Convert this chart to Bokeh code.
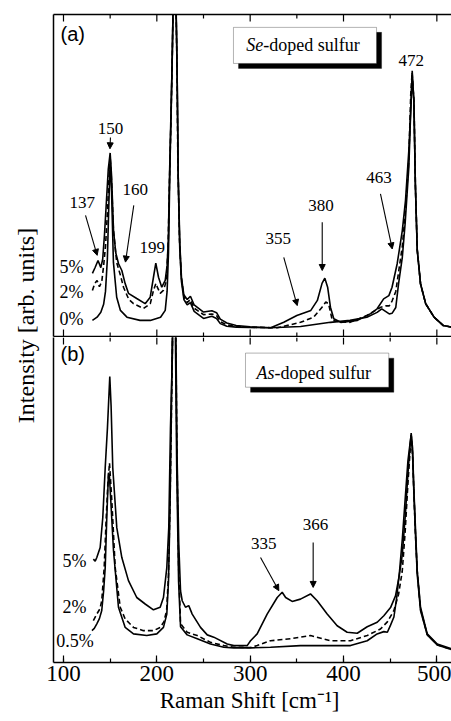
import math
from bokeh.plotting import figure
from bokeh.models import (Range1d, LinearAxis, SingleIntervalTicker, FixedTicker,
                          Label, Arrow, NormalHead, BoxAnnotation)
from bokeh.layouts import row, column
from bokeh.embed import file_html
from bokeh.resources import INLINE

# ---------------- data, x = Raman shift [cm-1], y = arb. units ----------------
# panel (a): Se-doped sulfur
se_0 = [(131,5.0),(136,6.0),(140,7.5),(143,10),(145,14),(147,24),(148.5,40),(150,55),(151.5,45),(153.5,23),
        (157,12.2),(161,8.1),(168,6.0),(182,5.0),(193,5.0),(204,6.0),(209,8.1),(211,14),(212.5,26),(214,52),
        (215.5,72),(216.8,92),(218,112),(220,112),(221.3,92),(222,75),(223,48),(224.6,27),(226.4,17),(229,11.5),
        (232.5,9.8),(236,10.5),(240,7.8),(250,5.6),(259,6.3),(264,5.6),(268,4.0),(275,3.2),(285,2.9),(300,2.8),
        (322,2.7),(354,3.1),(386,4.4),(407,5.0),(425,6.0),(436,7.5),(441,8.6),(445,7.8),(449,7.0),(452,7.2),
        (456,9.0),(459,16.4),(463,24.6),(466,35),(470,52.6),(472,70),(473.5,81),(475.5,73),(477,47),(479,27),
        (482.5,16.4),(488,10.2),(497,6.0),(507,3.4),(516,2.9)]
se_2 = [(131,14.3),(133.5,16.5),(136,17.4),(138.5,15.5),(141,17),(143,22),(145,28),(147,38),(148.5,48),(150,56),
        (151.5,48),(153.5,33),(157,23),(161,19),(164.3,15.3),(170,11.5),(175,10.2),(185.7,8.7),(193,10.2),(196.4,14.3),
        (199,16.5),(201,15),(203.6,13.4),(207,14.3),(210,17),(212,27),(213.6,49),(215.4,70),(216.5,86),(218,112),
        (220,112),(221.5,86),(222.5,55),(224.3,30),(226.2,18.5),(228.9,12.5),(232.5,10.5),(236,11.5),(240,8.8),(250,6.8),
        (259,7.0),(264,6.5),(268,4.6),(275,3.6),(285,3.1),(300,2.9),(329,2.7),(354,4.4),(368,6.0),(377,9.1),
        (381,10.7),(384,10.2),(388,5.0),(396,4.6),(407,4.4),(425,6.5),(440,9.1),(445,9.5),(449,9.5),(452,11),
        (456,14),(459,20),(463,28),(466,38),(470,55),(472,75),(473.5,82),(475.5,73),(477,47),(479,27),
        (482.5,16.4),(488,10.2),(497,6.0),(507,3.4),(516,2.9)]
se_5 = [(131,19.6),(134,21.5),(137,23.6),(140,21.4),(142,24),(144,32),(146,42),(148,52),(150,57),(151.5,50),
        (153.6,33),(156,26),(159,22.6),(162.5,20.5),(166,16.5),(169.6,13.4),(178.5,11.8),(187.5,10.2),(192.9,12.2),(196.4,18.4),
        (198.9,22.8),(201.8,18.4),(205.3,15.3),(209,17.4),(211,22),(212.3,30),(213.6,50),(215.2,70),(216.5,86),(218,112),
        (220,112),(221.8,81),(222.9,50),(224.6,29),(226.4,18.3),(228.9,13),(232.5,11.5),(236,12.5),(240,9.8),(250,7.6),
        (259,8.0),(264,7.4),(268,5.4),(275,4.2),(285,3.4),(300,3.0),(322,2.7),(336,4.4),(350,6.5),(365,8.1),
        (372,11.2),(377,16.5),(380,18.1),(383,15.3),(386,9.1),(389.6,5.5),(397,4.4),(415,5.0),(429,7.1),(436,8.6),
        (443,11.7),(448.6,12.7),(452,15.3),(457.5,22.6),(463,32.9),(466.4,42.2),(470,57.8),(472.5,73.3),(473.6,82.5),(475.3,73.3),
        (477,47.4),(479,26.7),(482.5,16.4),(488,10.2),(497,6.0),(507,3.4),(516,2.9)]

# panel (b): As-doped sulfur
as_05 = [(130.5,9.8),(133,10.5),(135.7,11.9),(138.5,13.5),(141,16.0),(143,22),(144.7,29.2),(146.4,44.6),(148.2,58.4),(149.3,57),
         (150.7,49.7),(153.6,34.4),(158.9,17.0),(166.1,10.8),(175,8.8),(189.2,8.3),(200,8.8),(207.1,10.8),(210.7,14.9),(212.5,25),
         (214,45),(215.5,75),(217,112),(219.5,112),(221.3,60),(223.3,25),(225.4,11),(232.5,8.5),(243.3,7.3),(257.5,5.7),
         (271.8,4.7),(282.5,4.5),(300.4,4.5),(321.8,4.7),(353.9,5.2),(386.1,5.2),(407.5,5.2),(425.4,6.7),(436,8.8),(443.2,9.5),
         (447,9.3),(450.4,11.5),(454,14),(457,20),(460,28),(463,38),(466,50),(469,62),(471.1,67),(472.5,70),
         (474,64),(475.3,53),(477,40),(479,27),(482.5,16),(489.7,8.5),(500.4,5.4),(515.7,4.0)]
as_2 = [(132,12.9),(135.7,14.9),(139,16.5),(141,19.0),(143.6,29.2),(145.8,44.6),(147.5,54.8),(149.3,61.4),(151.8,49.7),(155.4,29.2),
        (160.8,17.0),(166.1,13.4),(175,10.8),(185.7,9.8),(196.4,9.8),(203.6,10.8),(207.5,12.5),(210.5,16),(212.5,27),(214.2,50),
        (215.8,80),(217.5,112),(220,112),(221.5,65),(223.3,30),(225.4,12),(232.5,9.3),(243.3,8.3),(257.5,6.2),(271.8,5.2),
        (282.5,4.7),(300,4.6),(307.5,5.2),(321.8,6.7),(343.2,7.3),(364.6,8.3),(386.1,6.7),(407.5,6.7),(425.4,8.3),(439.6,10.3),
        (447,12.5),(454,16.0),(459,21),(462.9,28),(466,40),(469,55),(471.1,64),(472.5,70),(474,64),(475.3,53),
        (477,40),(479,28),(482.5,16.5),(489.7,8.6),(500.4,5.5),(515.7,4.0)]
as_5 = [(132,31.8),(134,31.2),(135.7,32.3),(139.3,35.4),(142.1,44.6),(144.7,59.9),(147.1,72.2),(149.6,88.0),(151,79),(152.8,59.9),
        (157.1,41.5),(162.5,32.3),(169.6,25.2),(178.5,20.0),(187.5,18.0),(196.4,16.2),(203.6,17.0),(207.1,20.0),(210.7,29.2),(212.8,41.5),
        (214.6,72),(216.5,92.6),(218,112),(220,112),(221.8,62),(223.5,36.5),(225.4,22),(227.2,19.0),(230.7,17.0),(234.2,17.5),
        (237.9,14.9),(246.8,10.8),(254,8.5),(261,7.8),(275.4,5.7),(282.5,5.2),(296.8,5.2),(300.4,6.7),(307.5,8.8),(318.2,14.9),
        (329,20.0),(334.3,21.6),(338,20.0),(345,18.8),(353.9,19.5),(364.6,21.1),(371.8,19.0),(382.5,14.9),(393.2,11.3),(403.9,9.3),
        (414.7,9.0),(425.4,11.0),(436.1,12.4),(443.2,14.4),(450.4,16.9),(455.7,20.5),(459.3,26),(462.9,33),(466.4,46),(469,58),
        (471.1,66),(472.5,70.6),(474,66),(475.3,53.8),(477,42),(479,28.2),(482.5,17.0),(489.7,8.8),(500.4,5.7),(515.7,4.2)]

# x tick values
tick_major = [100, 200, 300, 400, 500]
tick_minor = [150, 250, 350, 450]

# peak labels: (text, x, y) and arrows: (x_start, y_start, x_end, y_end)
peak_labels_a = [("137", 120, 41.7), ("150", 150.4, 64.7), ("160", 177, 45.5), ("199", 195, 27.7),
                 ("355", 330, 30.3), ("380", 376, 40.7), ("463", 437.9, 49.5), ("472", 472.5, 85.7)]
peak_arrows_a = [(123.6, 37.6, 136.1, 25.2), (150.3, 61.8, 149.8, 58.3), (175.3, 40.7, 166.4, 23.1),
                 (336, 24.6, 350.4, 9.6), (377.2, 35.5, 377.2, 20.5), (439.6, 44.3, 452.2, 27.2)]
peak_labels_b = [("335", 314.6, 36.6), ("366", 370, 42.5)]
peak_arrows_b = [(311.1, 32.3, 330.7, 22.1), (367.5, 36.9, 367.5, 23.1)]

conc_labels_a = [("5%", 121.5, 21.5), ("2%", 121.5, 13.8), ("0%", 121.5, 5.5)]
conc_labels_b = [("5%", 124.6, 31.3), ("2%", 124.6, 17.0), ("0.5%", 132.5, 6.7)]

SERIF = "Liberation Serif"
SANS = "Liberation Sans"

LEFT_FIG_W = 40          # width of the strip holding the y-axis title
PANEL_BORDER_L = 13      # left border inside each panel (frame starts at x = 53)
xr = Range1d(89.3, 515.7)


def line_axis():
    # an axis that only draws the frame border line (no ticks, no labels)
    return LinearAxis(ticker=FixedTicker(ticks=[]), major_tick_in=0, major_tick_out=0,
                      minor_tick_in=0, minor_tick_out=0, major_label_standoff=0,
                      axis_line_width=1.5, axis_line_color="black")


def panel(height, top, bottom):
    p = figure(width=451 - LEFT_FIG_W, height=height, output_backend="svg", toolbar_location=None,
               x_range=xr, y_range=Range1d(0, 100), x_axis_location=None, y_axis_location=None,
               min_border_left=PANEL_BORDER_L, min_border_right=0, min_border_top=top, min_border_bottom=bottom)
    p.grid.visible = False
    p.outline_line_color = None
    p.background_fill_color = "white"
    p.border_fill_color = "white"
    p.add_layout(line_axis(), "left")
    return p


def inner_ticks(p, y_edge, downward):
    ang = -math.pi / 2 if downward else math.pi / 2
    p.ray(x=tick_major, y=[y_edge] * len(tick_major), length=7, length_units="screen",
          angle=ang, line_color="black", line_width=1.2)
    p.ray(x=tick_minor, y=[y_edge] * len(tick_minor), length=4, length_units="screen",
          angle=ang, line_color="black", line_width=1.2)


def draw(p, pts, dashed=False):
    xs = [a for a, b in pts]
    ys = [b for a, b in pts]
    if dashed:
        p.line(xs, ys, line_color="black", line_width=1.6, line_dash="5 3")
    else:
        p.line(xs, ys, line_color="black", line_width=1.6)


def annotate(p, labels, arrows, conc):
    for t, x, y in labels:
        p.add_layout(Label(x=x, y=y, text=t, text_font=SERIF, text_font_size="17px",
                           text_align="center", text_baseline="middle", text_color="black"))
    for x0, y0, x1, y1 in arrows:
        p.add_layout(Arrow(x_start=x0, y_start=y0, x_end=x1, y_end=y1, line_width=1.1, line_color="black",
                           end=NormalHead(size=6, fill_color="black", line_color="black", line_width=1)))
    for t, x, y in conc:
        p.add_layout(Label(x=x, y=y, text=t, text_font=SERIF, text_font_size="18px",
                           text_align="right", text_baseline="middle", text_color="black"))


def title_box(p, left, right, top, bottom, italic, rest, split_x, ymid, dx=5.4, dy=1.55):
    p.add_layout(BoxAnnotation(left=left + dx, right=right + dx, top=top - dy, bottom=bottom - dy,
                               fill_color="black", fill_alpha=1.0, line_color="black"))
    p.add_layout(BoxAnnotation(left=left, right=right, top=top, bottom=bottom,
                               fill_color="white", fill_alpha=1.0, line_color="black", line_width=1))
    p.add_layout(Label(x=split_x, y=ymid, text=italic, text_font=SERIF, text_font_size="18px",
                       text_font_style="italic", text_align="right", text_baseline="middle", text_color="black"))
    p.add_layout(Label(x=split_x, y=ymid, text=rest, text_font=SERIF, text_font_size="18px",
                       text_align="left", text_baseline="middle", text_color="black"))


# ---------------- panel (a) ----------------
pa = panel(337, 14, 1)
pa.add_layout(line_axis(), "above")
pa.add_layout(line_axis(), "below")
inner_ticks(pa, 100, downward=True)
inner_ticks(pa, 0, downward=False)
draw(pa, se_0)
draw(pa, se_2, dashed=True)
draw(pa, se_5)
annotate(pa, peak_labels_a, peak_arrows_a, conc_labels_a)
title_box(pa, 282.1, 435.4, 96.0, 84.8, "Se", "-doped sulfur", 314.0, 90.4)
pa.add_layout(Label(x=96.8, y=94.0, text="(a)", text_font=SANS, text_font_size="20px",
                    text_align="left", text_baseline="middle", text_color="black"))

# ---------------- panel (b) ----------------
pb = panel(384, 0, 59)
inner_ticks(pb, 100, downward=True)
bx = LinearAxis(ticker=SingleIntervalTicker(interval=100, num_minor_ticks=2),
                major_tick_in=7, major_tick_out=0, minor_tick_in=4, minor_tick_out=0,
                major_tick_line_width=1.2, minor_tick_line_width=1.2,
                axis_line_width=1.5, axis_line_color="black")
bx.major_label_text_font = SERIF
bx.major_label_text_font_size = "23px"
bx.major_label_text_color = "black"
bx.major_label_standoff = 3
bx.axis_label = "Raman Shift  [cm\u207b\u00b9]"
bx.axis_label_text_font = SERIF
bx.axis_label_text_font_size = "23px"
bx.axis_label_text_font_style = "normal"
bx.axis_label_text_color = "black"
bx.axis_label_standoff = 4
pb.add_layout(bx, "below")
draw(pb, as_05)
draw(pb, as_2, dashed=True)
draw(pb, as_5)
annotate(pb, peak_labels_b, peak_arrows_b, conc_labels_b)
title_box(pb, 295.0, 448.5, 95.2, 84.7, "As", "-doped sulfur", 326.0, 89.0)
pb.add_layout(Label(x=96.8, y=95.0, text="(b)", text_font=SANS, text_font_size="20px",
                    text_align="left", text_baseline="middle", text_color="black"))

# ---------------- shared y label ----------------
lab = figure(width=LEFT_FIG_W, height=721, output_backend="svg", toolbar_location=None,
             x_range=Range1d(0, LEFT_FIG_W), y_range=Range1d(0, 721), x_axis_location=None, y_axis_location=None,
             min_border=0)
lab.grid.visible = False
lab.outline_line_color = None
lab.add_layout(Label(x=25, y=399, text="Intensity  [arb. units]", text_font=SERIF, text_font_size="24px",
                     angle=math.pi / 2, text_align="center", text_baseline="middle", text_color="black"))

layout = row(lab, column(pa, pb, spacing=0), spacing=0)

with open("out.html", "w") as f:
    f.write(file_html(layout, INLINE))
